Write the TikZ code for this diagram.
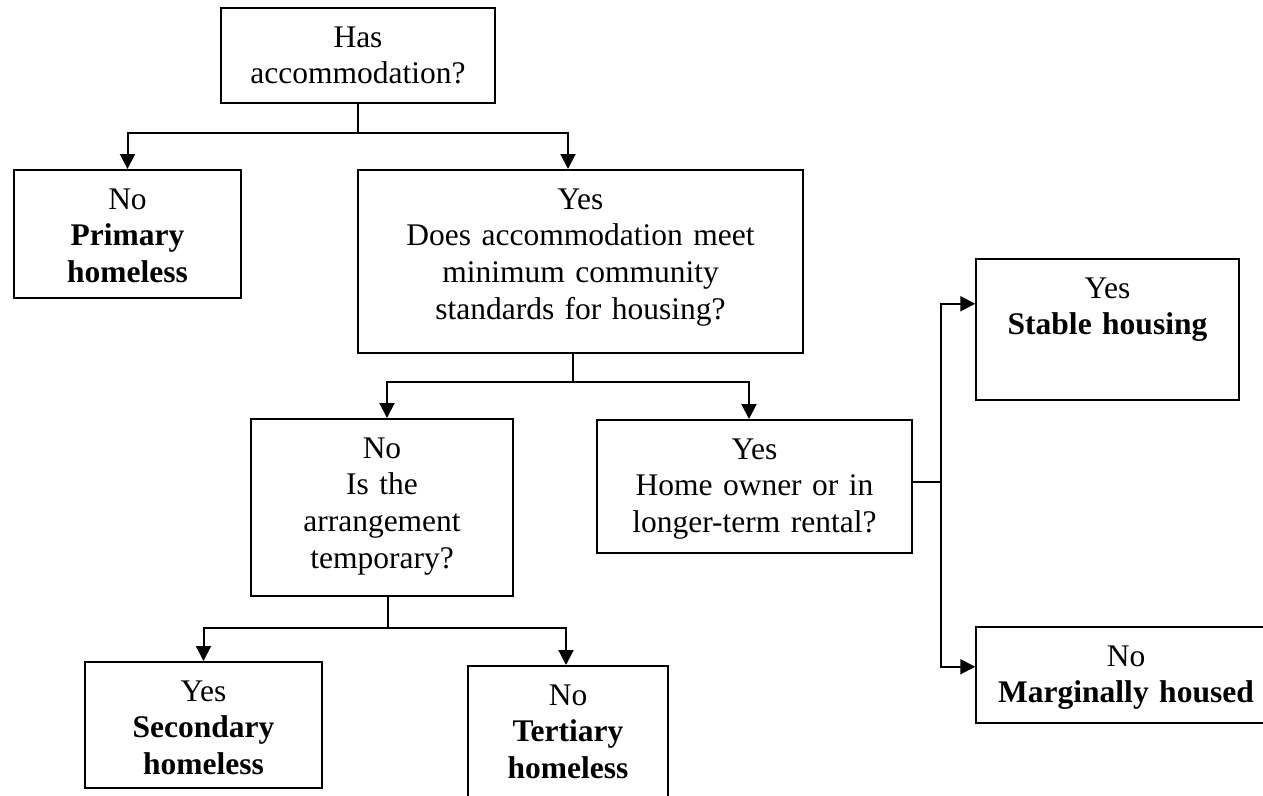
\documentclass[tikz,border=0pt]{standalone}
\usepackage{fontspec}
\setmainfont{Liberation Serif}
\usetikzlibrary{arrows.meta}
\begin{document}
\begin{tikzpicture}[x=1pt,y=-1pt,
  box/.style={draw, line width=1.5pt, inner xsep=4pt, inner ysep=0pt, align=center,
    text height=39.5pt, font=\fontsize{31.5}{36.7}\selectfont, anchor=north},
  stemline/.style={line width=1.2pt},
  arr/.style={line width=2pt, -{Triangle[length=15pt,width=15pt]}},
]
\clip (0,0) rectangle (1263,795);
\fill[white] (0,0) rectangle (1263,795);

\node[box, text width=266pt, text depth=55.5pt] (b1) at (358,7) {Has\\accommodation?};
\node[box, text width=219pt, text depth=88.5pt] (b2) at (127.5,169) {No\\\textbf{Primary}\\\textbf{homeless}};
\node[box, text width=437pt, text depth=143.5pt] (b3) at (580.5,169) {Yes\\Does accommodation meet\\minimum community\\standards for housing?};
\node[box, text width=254pt, text depth=137.5pt] (b4) at (382,418) {No\\Is the\\arrangement\\temporary?};
\node[box, text width=307pt, text depth=93.5pt] (b5) at (754.5,419) {Yes\\Home owner or in\\longer-term rental?};
\node[box, text width=229pt, text depth=86.5pt] (b6) at (203.5,661) {Yes\\\textbf{Secondary}\\\textbf{homeless}};
\node[box, text width=192pt, text depth=105.5pt] (b7) at (568,665) {No\\\textbf{Tertiary}\\\textbf{homeless}};
\node[box, text width=255pt, text depth=101.5pt] (b8) at (1107.5,258) {Yes\\\textbf{Stable housing}};
\node[box, text width=292pt, text depth=56.5pt] (b9) at (1126,626) {No\\\textbf{Marginally housed}};

% level 1
\coordinate (j1) at (358,133);
\draw[stemline] (j1 |- b1.south) -- (j1);
\draw[arr] (j1) -| (b2.north);
\draw[arr] (j1) -| ([xshift=-12.5pt]b3.north);

% level 2
\coordinate (j2) at (573,382);
\draw[stemline] (j2 |- b3.south) -- (j2);
\draw[arr] (j2) -| ([xshift=5pt]b4.north);
\draw[arr] (j2) -| ([xshift=-5.5pt]b5.north);

% level 3
\coordinate (j3) at (388,628);
\draw[stemline] (j3 |- b4.south) -- (j3);
\draw[arr] (j3) -| (b6.north);
\draw[arr] (j3) -| ([xshift=-2pt]b7.north);

% right branch
\coordinate (j4) at (941,482);
\draw[stemline] (b5.east |- j4) -- (j4);
\draw[arr] (j4) |- ([yshift=25.5pt]b8.west);
\draw[arr] (j4) |- ([yshift=8pt]b9.west);
\end{tikzpicture}
\end{document}
